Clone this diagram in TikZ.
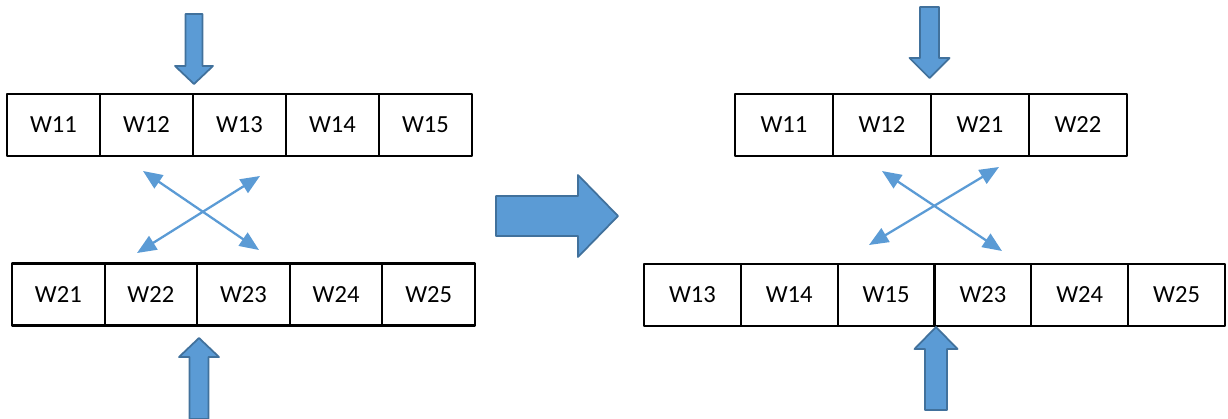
\documentclass[tikz,border=0pt]{standalone}
\usepackage{fontspec}
\setmainfont{Carlito}
\usetikzlibrary{arrows.meta}

\definecolor{blockblue}{RGB}{91,155,213}
\definecolor{blockedge}{RGB}{65,113,156}

\begin{document}
\begin{tikzpicture}[x=0.02cm,y=-0.02cm,line join=round,
        cell/.style={draw,line width=1.2pt,minimum height=1.24cm,
            inner sep=0pt,outer sep=0pt,font=\fontsize{14}{16}\selectfont},
        blockarrow/.style={fill=blockblue,draw=blockedge,line width=1pt},
        swaparrow/.style={blockblue,line width=1.3pt,
            {Triangle[length=11pt,width=9pt]}-{Triangle[length=11pt,width=9pt]}}]
        \useasboundingbox (0,0) rectangle (1228,419);

        %----------------------------------------------------------
        % Dos filas de partida
        \foreach \name [count=\i] in {11,12,13,14,15}
            \node[cell,minimum width=1.86cm] (ltop\name)
                at ({7+93*(\i-0.5)},125) {W\name};
        \foreach \name [count=\i] in {21,22,23,24,25}
            \node[cell,minimum width=1.852cm] (lbot\name)
                at ({12+92.6*(\i-0.5)},294.5) {W\name};

        % Puntos de corte
        \filldraw[blockarrow]
            (185.5,14) -- (202.5,14) -- (202.5,66) -- (213,66)
            -- (194,84) -- (175,66) -- (185.5,66) -- cycle;
        \filldraw[blockarrow]
            (189.5,419) -- (208.5,419) -- (208.5,357) -- (219,357)
            -- (199,338) -- (179,357) -- (189.5,357) -- cycle;

        % Intercambio
        \coordinate (lxa) at (143,171);
        \coordinate (lxb) at (259,250);
        \coordinate (lxc) at (137,253);
        \coordinate (lxd) at (260,176);
        \draw[swaparrow] (lxa) -- (lxb);
        \draw[swaparrow] (lxc) -- (lxd);

        %----------------------------------------------------------
        % Flecha de paso
        \filldraw[blockarrow]
            (496,196) -- (578,196) -- (578,175) -- (618,216)
            -- (578,257) -- (578,236) -- (496,236) -- cycle;

        %----------------------------------------------------------
        % Filas resultantes
        \foreach \name [count=\i] in {11,12,21,22}
            \node[cell,minimum width=1.96cm] (rtop\name)
                at ({735+98*(\i-0.5)},125) {W\name};
        \foreach \name [count=\i] in {13,14,15,23,24,25}
            \node[cell,minimum width=1.9366cm] (rbot\name)
                at ({644+96.83*(\i-0.5)},295) {W\name};

        \filldraw[blockarrow]
            (920,7) -- (939,7) -- (939,58) -- (949.5,58)
            -- (929.5,78) -- (909.5,58) -- (920,58) -- cycle;
        \filldraw[blockarrow]
            (925,410) -- (947,410) -- (947,349) -- (957.5,349)
            -- (936,327) -- (914.5,349) -- (925,349) -- cycle;

        \coordinate (rxa) at (882,171);
        \coordinate (rxb) at (1002,251);
        \coordinate (rxc) at (869,245);
        \coordinate (rxd) at (999,167);
        \draw[swaparrow] (rxa) -- (rxb);
        \draw[swaparrow] (rxc) -- (rxd);
    \end{tikzpicture}
\end{document}
